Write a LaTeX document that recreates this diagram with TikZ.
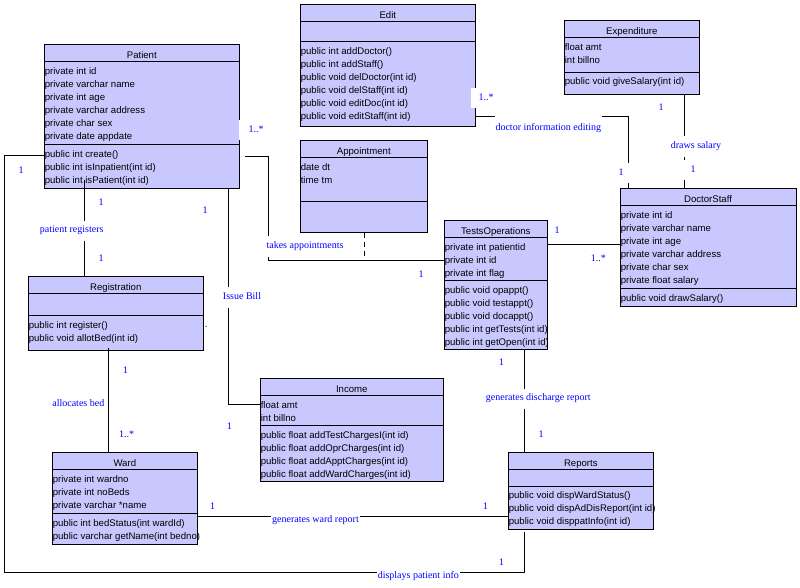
\documentclass[tikz,border=0pt]{standalone}
\usepackage{fontspec}
\setmainfont{Liberation Sans}
\newfontfamily\lblfont{Liberation Serif}
\definecolor{clsfill}{RGB}{200,200,255}
\definecolor{lblblue}{RGB}{0,0,255}
\tikzset{
  cls/.style={draw, fill=clsfill, line width=0.9pt, inner sep=0pt, anchor=north west},
  clsline/.style={line width=0.9pt},
  clstitle/.style={font=\fontsize{9.6}{11}\selectfont, inner sep=0pt, text height=6.8pt, text depth=2pt},
  clstext/.style={font=\fontsize{9.6}{11}\selectfont, inner sep=0pt, anchor=west, text height=6.8pt, text depth=2pt},
  lbl/.style={font=\lblfont\fontsize{10}{12}\selectfont, text=lblblue, inner sep=1pt, text height=6.6pt, text depth=2.2pt},
  gaplbl/.style={lbl, fill=white, minimum height=20pt},
  conn/.style={line width=0.9pt},
  assocdash/.style={conn, dash pattern=on 5pt off 4pt},
}
\newcommand{\umlclass}[8]{%
  \node[cls, minimum width=#4pt-#2pt, minimum height=#5pt-#3pt] (#1) at (#2,#3) {};
  \draw[clsline] (#2,#7) -- (#4,#7);
  \draw[clsline] (#2,#8) -- (#4,#8);
  \node[clstitle] (#1-title) at ({(#2+#4)/2},{#7-5.6}) {#6};
}
\newcommand{\umlrows}[4]{%
  \foreach \rowtext [count=\rowi from 1] in {#4} {
    \node[clstext] (#1-\rowi) at (#2,{#3+13*(\rowi-1)}) {\rowtext};
  }
}
\begin{document}
\begin{tikzpicture}[x=1pt,y=-1pt]
\fill[white] (0,0) rectangle (800,588);
\useasboundingbox (0,0) rectangle (800,588);

% ---------------- classes ----------------
\umlclass{patient}{44.3}{44.3}{239.3}{188.3}{Patient}{61.3}{144.3}
\umlrows{patient-a}{44.6}{71.9}{private int id,private varchar name,private int age,private varchar address,private char sex,private date appdate}
\umlrows{patient-m}{44.6}{155}{public int create(),public int isInpatient(int id),public int isPatient(int id)}

\umlclass{edit}{300.3}{4.3}{475.3}{126.3}{Edit}{21.7}{41.7}
\umlrows{edit-m}{300.6}{51.7}{public int addDoctor(),public int addStaff(),public void delDoctor(int id),public void delStaff(int id),public void editDoc(int id),public void editStaff(int id)}

\umlclass{appointment}{300.3}{140.3}{427.3}{232.3}{Appointment}{157.3}{201.3}
\umlrows{appointment-a}{300.6}{167.7}{date dt,time tm}

\umlclass{tests}{444.3}{220.3}{547.3}{349}{TestsOperations}{237.3}{280.3}
\umlrows{tests-a}{444.6}{247.7}{private int patientid,private int id,private int flag}
\umlrows{tests-m}{444.6}{290.7}{public void opappt(),public void testappt(),public void docappt(),public int getTests(int id),public int getOpen(int id)}

\umlclass{expenditure}{564.3}{20.3}{699.3}{94.3}{Expenditure}{37.3}{72}
\umlrows{expenditure-a}{564.6}{47.7}{float amt,int billno}
\umlrows{expenditure-m}{564.6}{82.3}{public void giveSalary(int id)}

\umlclass{doctor}{620.3}{188.3}{795.7}{306}{DoctorStaff}{205.7}{288.3}
\umlrows{doctor-a}{620.6}{216}{private int id,private varchar name,private int age,private varchar address,private char sex,private float salary}
\umlrows{doctor-m}{620.6}{298.7}{public void drawSalary()}

\umlclass{registration}{28.3}{276}{203.3}{350.3}{Registration}{293.3}{315.3}
\umlrows{registration-m}{28.6}{325.7}{public int register(),public void allotBed(int id)}

\umlclass{ward}{52.3}{452.3}{197.3}{544.3}{Ward}{469.7}{513.3}
\umlrows{ward-a}{52.6}{479.7}{private int wardno,private int noBeds,private varchar *name}
\umlrows{ward-m}{52.6}{524}{public int bedStatus(int wardId),public varchar getName(int bedno)}

\umlclass{income}{260.3}{378.3}{443.3}{481.3}{Income}{395.7}{425.7}
\umlrows{income-a}{260.6}{405.7}{float amt,int billno}
\umlrows{income-m}{260.6}{435.7}{public float addTestChargesI(int id),public float addOprCharges(int id),public float addApptCharges(int id),public float addWardCharges(int id)}

\umlclass{reports}{508.3}{452.3}{653.3}{529.3}{Reports}{469.3}{486.3}
\umlrows{reports-m}{508.6}{496.3}{public void dispWardStatus(),public void dispAdDisReport(int id),public void disppatInfo(int id)}

% ---------------- connector coordinates ----------------
\coordinate (prTop) at (84.3,180);
\coordinate (dpA) at (4.3,155);
\coordinate (dpB) at (4.3,572.3);
\coordinate (dpC) at (524.3,572.3);
\coordinate (dpD) at (524.3,532.3);
\coordinate (ptA) at (268.3,156);
\coordinate (ptB) at (268.3,260.3);
\coordinate (apX) at (364.3,259.6);
\coordinate (piA) at (228.3,404.3);
\coordinate (rwX) at (108.3,348);
\coordinate (wrY) at (0,516.3);
\coordinate (trX) at (524.3,0);
\coordinate (tdY) at (0,244.3);
\coordinate (edA) at (628.3,116.3);
\coordinate (exX) at (684.3,0);

% ---------------- connectors ----------------
% Patient - Registration
\draw[conn] (prTop) -- (prTop |- registration.north);
% Patient - Reports
\draw[conn] (patient.west |- dpA) -- (dpA) -- (dpB) -- (dpC) -- (dpD);
% Patient - TestsOperations
\draw[conn, shorten <=5pt] (patient.east |- ptA) -- (ptA) -- (ptB) -- (ptB -| tests.west);
% Appointment association class
\draw[assocdash] (appointment.south -| apX) -- (apX);
% Patient - Income
\draw[conn] (patient.south -| piA) -- (piA) -- (income.west |- piA);
% Registration - Ward
\draw[conn] (rwX) -- (ward.north -| rwX);
% Ward - Reports
\draw[conn] (ward.east |- wrY) -- (reports.west |- wrY);
% TestsOperations - Reports
\draw[conn] (tests.south -| trX) -- (reports.north -| trX);
% TestsOperations - DoctorStaff
\draw[conn] (tests.east |- tdY) -- (doctor.west |- tdY);
% Edit - DoctorStaff
\draw[conn] (edit.east |- edA) -- (edA) -- (doctor.north -| edA);
% Expenditure - DoctorStaff
\draw[conn] (expenditure.south -| exX) -- (doctor.north -| exX);

% ---------------- labels ----------------
\node[gaplbl] (lPR) at (71.7,230.5) {patient registers};
\node[lbl] (lPR1) at (101,203.3) {1};
\node[lbl] (lPR2) at (101,259) {1};

\node[gaplbl, minimum height=14pt] (lDP) at (418.3,576.7) {displays patient info};
\node[lbl] (lDP1) at (21,171.7) {1};
\node[lbl] (lDP2) at (501.3,563.3) {1};

\node[gaplbl, minimum height=21pt] (lTA) at (305,246) {takes appointments};
\node[gaplbl, minimum width=34pt] (lTA1) at (256,130) {1..*};
\node[lbl] (lTA2) at (421,275.7) {1};

\node[gaplbl, minimum height=21pt] (lIB) at (242,297.5) {Issue Bill};
\node[lbl] (lIB1) at (205,211.3) {1};
\node[lbl] (lIB2) at (229.3,427.3) {1};
\node[font=\fontsize{9.6}{11}\selectfont, inner sep=0pt] (dot) at (206.3,327) {.};

\node[lbl] (lAB) at (78.3,404.3) {allocates bed};
\node[lbl] (lAB1) at (125.3,371.7) {1};
\node[lbl] (lAB2) at (126.7,435.7) {1..*};

\node[gaplbl, minimum height=14pt] (lWR) at (315.5,520) {generates ward report};
\node[lbl] (lWR1) at (212.7,507.3) {1};
\node[lbl] (lWR2) at (485.3,507.3) {1};

\node[gaplbl] (lDR) at (538.3,398.5) {generates discharge report};
\node[lbl] (lDR1) at (501.3,363.3) {1};
\node[lbl] (lDR2) at (541,435.7) {1};

\node[lbl] (lTD1) at (557,231.3) {1};
\node[lbl] (lTD2) at (598.3,259) {1..*};

\node[gaplbl, minimum height=28pt] (lDE) at (548.3,128.7) {doctor information editing};
\node[gaplbl, minimum width=30pt] (lDE1) at (486,98) {1..*};
\node[gaplbl, minimum width=18pt] (lDE2) at (621,173) {1};

\node[gaplbl, minimum height=21pt] (lDS) at (696,146.2) {draws salary};
\node[lbl] (lDS1) at (661,108.3) {1};
\node[gaplbl, minimum width=22pt] (lDS2) at (693,170) {1};
\end{tikzpicture}
\end{document}
